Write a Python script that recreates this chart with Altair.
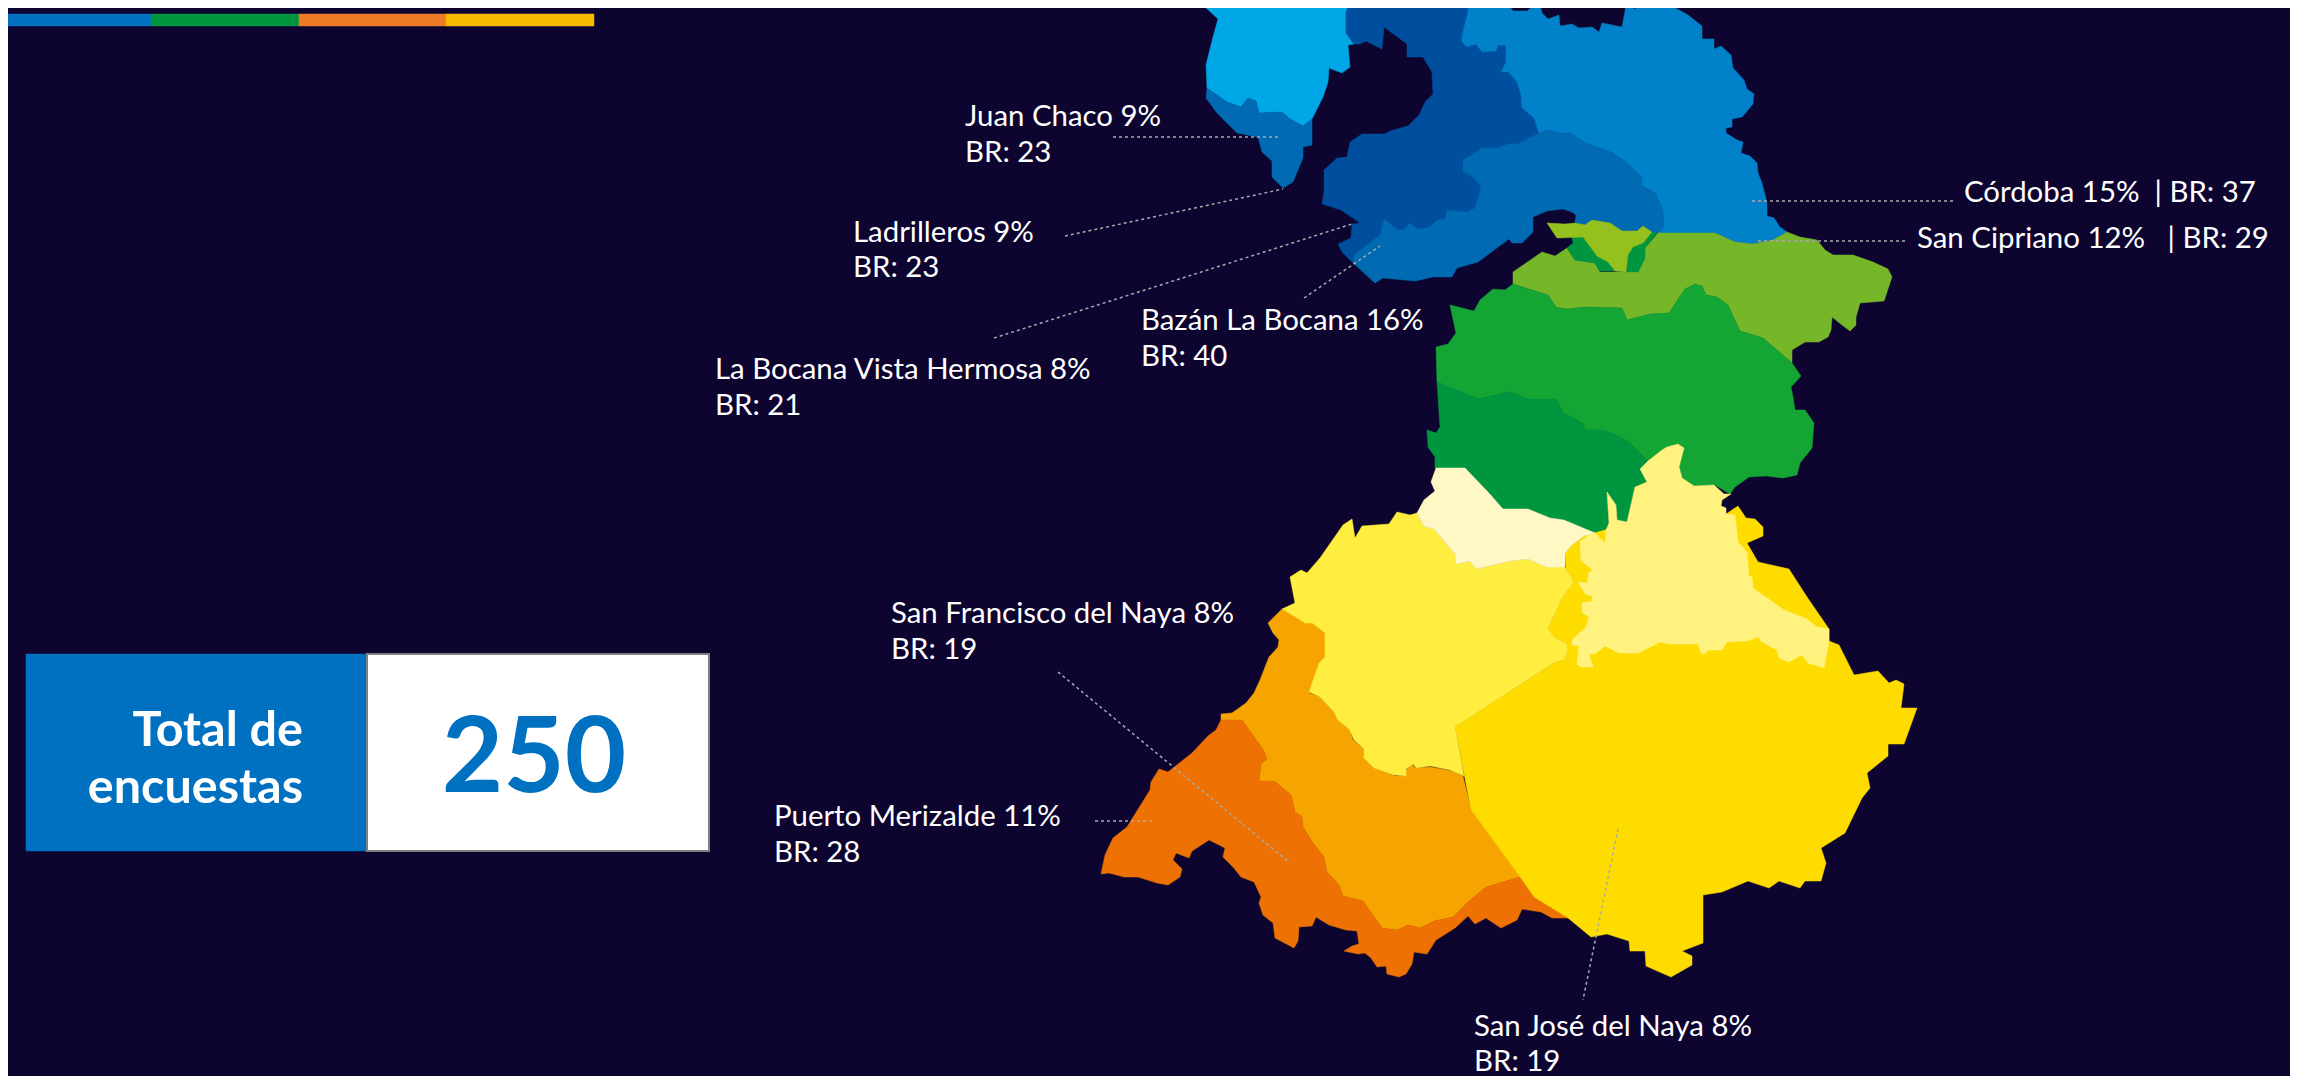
import altair as alt
import pandas as pd

BG = "#0d0530"

# ---- map regions, in the picture's own map units
light_blue = [(1202,0),(1203,5),(1218,19),(1213,37),(1206,65),(1207,88),(1227,102),(1241,107),(1248,98),(1256,101),(1259,113),(1282,112),(1290,119),(1303,126),(1312,119),(1323,97),(1328,82),(1329,68),(1342,73),(1350,67),(1348,45),(1354,44),(1346,33),(1346,13),(1350,0)]
ladrilleros = [(1207,88),(1206,98),(1217,113),(1237,133),(1258,137),(1262,152),(1272,161),(1272,177),(1283,188),(1293,182),(1303,158),(1303,147),(1312,145),(1312,119),(1303,126),(1290,119),(1282,112),(1259,113),(1256,101),(1248,98),(1241,107),(1227,102)]
navy = [(1350,0),(1346,13),(1346,33),(1354,44),(1360,44),(1366,41),(1382,49),(1384,27),(1407,44),(1407,57),(1423,57),(1432,72),(1433,94),(1425,102),(1419,115),(1408,126),(1390,131),(1385,134),(1362,134),(1350,142),(1347,157),(1337,158),(1324,170),(1324,192),(1322,204),(1341,210),(1360,223),(1352,224),(1351,238),(1338,244),(1342,252),(1353,263),(1354,255),(1380,235),(1384,219),(1398,230),(1403,230),(1410,223),(1418,229),(1430,227),(1437,220),(1445,219),(1447,210),(1467,212),(1475,208),(1481,187),(1472,176),(1463,172),(1463,160),(1482,148),(1497,148),(1508,144),(1517,144),(1539,133),(1534,118),(1522,108),(1521,95),(1517,82),(1508,72),(1501,72),(1506,62),(1506,45),(1498,45),(1496,51),(1482,52),(1476,44),(1467,47),(1462,42),(1462,35),(1468,12),(1468,0)]
bazan = [(1539,133),(1547,130),(1560,133),(1570,133),(1585,143),(1613,153),(1627,163),(1642,178),(1642,186),(1655,193),(1662,208),(1664,220),(1663,227),(1658,233),(1652,232),(1643,226),(1637,231),(1622,231),(1610,223),(1592,220),(1586,226),(1575,223),(1576,215),(1572,212),(1563,209),(1547,211),(1533,217),(1533,232),(1522,243),(1512,243),(1509,239),(1478,262),(1457,268),(1452,277),(1433,277),(1415,281),(1383,278),(1375,283),(1353,263),(1354,255),(1380,235),(1384,219),(1398,230),(1403,230),(1410,223),(1418,229),(1430,227),(1437,220),(1445,219),(1447,210),(1467,212),(1475,208),(1481,187),(1472,176),(1463,172),(1463,160),(1482,148),(1497,148),(1508,144),(1517,144)]
cordoba = [(1468,0),(1468,12),(1462,35),(1462,42),(1467,47),(1476,44),(1482,52),(1496,51),(1498,45),(1506,45),(1506,62),(1501,72),(1508,72),(1517,82),(1521,95),(1522,108),(1534,118),(1539,133),(1547,130),(1560,133),(1570,133),(1585,143),(1613,153),(1627,163),(1642,178),(1642,186),(1655,193),(1662,208),(1664,220),(1663,227),(1658,233),(1715,233),(1735,242),(1753,244),(1773,240),(1787,232),(1780,227),(1774,218),(1767,216),(1767,203),(1762,183),(1758,173),(1757,163),(1750,156),(1741,153),(1743,142),(1737,140),(1726,133),(1726,128),(1732,127),(1732,119),(1742,117),(1753,104),(1754,94),(1747,89),(1744,80),(1733,68),(1731,55),(1721,46),(1714,49),(1714,39),(1702,39),(1702,26),(1688,15),(1670,5),(1660,7),(1646,1),(1643,5),(1635,9),(1626,6),(1622,27),(1602,23),(1599,32),(1592,27),(1579,28),(1572,24),(1560,26),(1559,15),(1548,19),(1542,13),(1540,5),(1532,7),(1527,11),(1513,11),(1505,0)]
olive = [(1547,223),(1565,224),(1575,223),(1585,225),(1592,220),(1610,223),(1622,231),(1637,231),(1643,226),(1652,232),(1643,243),(1633,247),(1628,255),(1626,272),(1615,271),(1608,262),(1597,256),(1583,237),(1557,238)]
green_left = [(1572,237),(1583,237),(1597,256),(1607,260),(1615,271),(1600,271),(1595,263),(1575,260),(1567,248),(1573,243)]
green_right = [(1657,233),(1652,232),(1643,243),(1633,247),(1628,255),(1626,272),(1638,272),(1645,258),(1645,248)]
cipriano = [(1658,233),(1715,233),(1735,242),(1753,244),(1773,240),(1787,232),(1800,237),(1817,240),(1825,250),(1833,255),(1853,255),(1873,262),(1888,269),(1892,277),(1884,301),(1860,303),(1856,317),(1856,325),(1850,331),(1842,325),(1832,317),(1831,330),(1828,337),(1819,342),(1805,342),(1792,350),(1792,363),(1777,350),(1763,338),(1740,331),(1728,305),(1717,297),(1706,295),(1702,286),(1695,284),(1685,289),(1669,313),(1650,314),(1627,320),(1622,308),(1585,307),(1566,309),(1556,307),(1548,295),(1513,284),(1513,272),(1542,252),(1555,256),(1567,248),(1575,260),(1595,263),(1600,272),(1638,272),(1645,258),(1645,248)]
green = [(1513,284),(1548,295),(1556,307),(1566,309),(1585,307),(1622,308),(1627,320),(1650,314),(1669,313),(1685,289),(1695,284),(1702,286),(1706,295),(1717,297),(1728,305),(1740,331),(1763,338),(1777,350),(1792,363),(1801,376),(1791,387),(1793,397),(1795,410),(1805,410),(1814,423),(1812,448),(1800,463),(1797,475),(1783,478),(1767,476),(1749,477),(1735,487),(1730,494),(1715,485),(1693,486),(1680,477),(1678,465),(1684,448),(1678,444),(1667,447),(1648,462),(1640,453),(1630,443),(1620,437),(1603,430),(1585,430),(1582,423),(1563,413),(1556,399),(1528,399),(1510,392),(1478,399),(1437,382),(1436,347),(1448,344),(1456,333),(1450,305),(1474,311),(1480,300),(1493,289),(1505,290)]
dark_green = [(1437,382),(1478,399),(1510,392),(1528,399),(1556,399),(1563,413),(1582,423),(1585,430),(1603,430),(1620,437),(1630,443),(1640,453),(1648,462),(1641,468),(1647.5,482),(1635,487),(1633,495),(1627,522),(1617,520),(1616,505),(1607,492),(1609,523),(1606,530),(1605,543),(1595,533),(1564,520),(1550,518),(1528,509),(1503,509),(1488,492),(1465,468),(1435,468),(1435,457),(1428,447),(1427,430),(1436,433),(1440,427)]
cream = [(1436,468),(1465,468),(1488,492),(1503,509),(1528,509),(1550,518),(1564,520),(1595,533),(1584,536),(1572,545),(1565,553),(1565,567),(1546,567),(1528,559),(1510,561),(1476,569),(1470,561),(1456,564),(1456,555),(1439,535),(1434,529),(1424,526),(1417,513),(1424,500),(1435,491),(1431,482)]
yellow = [(1417,513),(1410,515),(1397,512),(1389,524),(1362,526),(1355,538),(1352,519),(1343,525),(1320,558),(1307,573),(1301,570),(1290,577),(1295,603),(1282,609),(1305,623),(1312,623),(1325,633),(1325,657),(1319,663),(1309,692),(1320,697),(1334,712),(1338,720),(1349,729),(1354,740),(1364,749),(1364,758),(1374,768),(1394,775),(1406,776),(1406,769),(1413,764),(1416,768),(1430,766),(1450,770),(1464,776),(1455,727),(1555,662),(1564,660),(1568,650),(1566,643),(1555,638),(1548,628),(1563,597),(1574,582),(1566,569),(1565,567),(1546,567),(1528,559),(1510,561),(1476,569),(1470,561),(1456,564),(1456,555),(1439,535),(1434,529),(1424,526)]
gold = [(1455,727),(1555,662),(1564,660),(1568,650),(1566,643),(1555,638),(1548,628),(1563,597),(1574,582),(1566,569),(1565,553),(1572,545),(1584,536),(1640,520),(1700,520),(1726,514),(1738,506),(1746,518),(1755,519),(1763,527),(1763,536),(1747,543),(1758,562),(1789,569),(1807,597),(1829,629),(1829,641),(1839,645),(1854,675),(1878,671),(1889,683),(1896,680),(1904,684),(1901,708),(1917,708),(1904,744),(1888,744),(1888,756),(1867,773),(1870,788),(1862,798),(1845,833),(1821,848),(1826,863),(1821,881),(1805,881),(1800,888),(1779,881),(1769,888),(1748,881),(1722,892),(1703,895),(1703,943),(1682,951),(1692,956),(1692,965),(1671,977),(1646,966),(1645,951),(1630,951),(1629,941),(1607,934),(1591,937),(1568,918),(1534,897),(1520,877),(1471,810)]
pale = [(1684,448),(1679,467),(1682,478),(1694,486),(1714,485),(1724,494),(1731,494),(1722,500),(1721,506),(1726,508),(1726,514),(1735,515),(1738,542),(1747,552),(1749,576),(1752,577),(1753,588),(1784,610),(1807,619),(1817,627),(1829,629),(1829,641),(1824,668),(1808,663),(1802,655),(1789,662),(1779,658),(1777,650),(1762,642),(1758,637),(1747,641),(1727,642),(1722,650),(1709,650),(1704,654),(1701,653),(1698,644),(1670,644),(1660,642),(1639,653),(1619,653),(1605,646),(1595,654),(1589,654),(1593,667),(1581,667),(1577,664),(1579,646),(1572,645),(1572,640),(1586,627),(1589,617),(1582,612),(1582,603),(1592,601),(1592,596),(1585,594),(1578,582),(1587,583),(1589,572),(1593,570),(1581,561),(1580,542),(1588,536),(1595,533),(1605,543),(1606,530),(1609,523),(1607,492),(1616,505),(1617,520),(1627,522),(1635,487),(1647,482),(1640,469),(1648,461),(1662,450),(1667,447),(1678,444)]
amber = [(1282,609),(1268,623),(1273,633),(1279,640),(1278,647),(1269,657),(1260,680),(1254,693),(1246,703),(1232,713),(1221,714),(1221,720),(1242,720),(1264,751),(1267,759),(1261,764),(1259,781),(1274,781),(1291,795),(1295,812),(1302,817),(1303,827),(1313,843),(1324,857),(1327,872),(1339,885),(1343,896),(1363,901),(1382,928),(1397,930),(1408,925),(1420,928),(1434,921),(1453,917),(1467,903),(1486,887),(1520,877),(1471,810),(1463,776),(1452,771),(1430,767),(1415,768),(1412,764),(1406,770),(1406,776),(1396,776),(1374,768),(1364,758),(1364,749),(1353,740),(1349,729),(1339,720),(1334,712),(1320,697),(1309,693),(1319,663),(1325,657),(1325,633),(1312,623),(1305,623)]
orange = [(1221,720),(1242,720),(1264,751),(1267,759),(1261,764),(1259,781),(1274,781),(1291,795),(1295,812),(1302,817),(1303,827),(1313,843),(1324,857),(1327,872),(1339,885),(1343,896),(1363,901),(1382,928),(1397,930),(1408,925),(1420,928),(1434,921),(1453,917),(1467,903),(1486,887),(1520,877),(1534,897),(1568,918),(1552,918),(1541,912),(1522,909),(1517,920),(1501,928),(1486,918),(1475,924),(1468,916),(1455,928),(1436,940),(1427,954),(1414,952),(1412,964),(1406,974),(1399,977),(1387,974),(1386,966),(1377,967),(1371,958),(1365,953),(1358,954),(1344,951),(1352,946),(1359,944),(1357,931),(1346,930),(1329,925),(1316,917),(1312,926),(1299,927),(1298,941),(1294,948),(1275,938),(1273,923),(1263,915),(1259,903),(1261,897),(1254,882),(1241,877),(1233,867),(1223,857),(1225,848),(1209,840),(1192,851),(1189,858),(1176,853),(1173,860),(1182,869),(1180,877),(1168,885),(1157,883),(1138,877),(1124,877),(1109,873),(1101,874),(1105,855),(1113,838),(1127,827),(1150,790),(1151,782),(1159,769),(1168,772),(1192,753),(1208,736),(1216,730)]

regions = [
    (light_blue, "#00a7e7"), (ladrilleros, "#006ab3"), (navy, "#004f9f"), (cordoba, "#0081c9"),
    (bazan, "#006ab3"), (cipriano, "#76b72a"), (green_left, "#009640"), (green_right, "#009640"),
    (olive, "#95c11f"), (green, "#14a535"), (dark_green, "#009640"), (amber, "#f6a500"),
    (orange, "#ee7203"), (gold, "#ffdc00"), (yellow, "#ffed3f"), (cream, "#fff8c5"), (pale, "#fff27f"),
]

# ---- top strip and total box
strip_edges = [4, 151, 299, 446, 594]
strip_span = [14, 26]
strip_colors = ["#0070c0", "#009640", "#ec7a26", "#f7bc00"]
box_edges = [26, 367, 709]
box_span = [654, 851]

# ---- labels
label_text = ["Juan Chaco 9%", "BR: 23", "Ladrilleros 9%", "BR: 23", "La Bocana Vista Hermosa 8%", "BR: 21",
              "Bazán La Bocana 16%", "BR: 40", "San Francisco del Naya 8%", "BR: 19", "Puerto Merizalde 11%", "BR: 28",
              "San José del Naya 8%", "BR: 19", "Córdoba 15%\u00a0\u00a0|\u00a0BR: 37", "San Cipriano 12%\u00a0\u00a0\u00a0|\u00a0BR: 29"]
label_x = [965, 965, 853, 853, 715, 715, 1141, 1141, 891, 891, 774, 774, 1474, 1474, 1964, 1917]
label_y = [126, 162, 242, 277, 379, 415, 330, 366, 623, 659, 826, 862, 1036, 1071, 202, 248]

# ---- leader lines
lead_x1 = [1113, 1065, 994, 1304, 1058, 1095, 1618, 1752, 1758]
lead_y1 = [137, 236, 338, 298, 672, 821, 829, 201, 241]
lead_x2 = [1279, 1283, 1352, 1380, 1290, 1153, 1583, 1956, 1906]
lead_y2 = [137, 189, 224, 246, 863, 821, 1000, 201, 241]


def ring(pts):
    r = [list(p) for p in pts]
    return r + [r[0]]


def feature(pts, color):
    return {"type": "Feature", "properties": {"color": color},
            "geometry": {"type": "Polygon", "coordinates": [ring(pts)]}}


def rect(x0, x1, y0, y1):
    return [(x0, y0), (x1, y0), (x1, y1), (x0, y1)]


def proj(c):
    return c.project(type="identity", scale=1, translate=[-8, -8])


features = [feature(p, c) for p, c in regions]
for i, c in enumerate(strip_colors):
    features.append(feature(rect(strip_edges[i], strip_edges[i + 1], strip_span[0], strip_span[1]), c))
features.append(feature(rect(box_edges[0], box_edges[1], box_span[0], box_span[1]), "#0071c1"))
features.append(feature(rect(box_edges[1], box_edges[2], box_span[0], box_span[1]), "#ffffff"))

shapes = proj(alt.Chart(alt.Data(values=features)).mark_geoshape(strokeWidth=0.5).encode(
    fill=alt.Fill("properties.color:N", scale=None),
    stroke=alt.Stroke("properties.color:N", scale=None),
))

outline = proj(alt.Chart(alt.Data(values=[feature(rect(box_edges[1], box_edges[2], box_span[0], box_span[1]), "#7f7f7f")]))
               .mark_geoshape(filled=False, stroke="#7f7f7f", strokeWidth=2))

leaders = proj(alt.Chart(pd.DataFrame({"x": lead_x1, "y": lead_y1, "x2": lead_x2, "y2": lead_y2}))
               .mark_rule(color="#a9a9a9", strokeWidth=1.5, strokeDash=[3, 3])
               .encode(longitude="x:Q", latitude="y:Q", longitude2="x2:Q", latitude2="y2:Q"))

labels = proj(alt.Chart(pd.DataFrame({"x": label_x, "y": label_y, "t": label_text}))
              .mark_text(align="left", baseline="alphabetic", font="Lato", fontSize=29.4, color="#ffffff")
              .encode(longitude="x:Q", latitude="y:Q", text="t:N"))

title_lines = proj(alt.Chart(pd.DataFrame({"x": [303, 303], "y": [746, 803], "t": ["Total de", "encuestas"]}))
                   .mark_text(align="right", baseline="alphabetic", font="Lato", fontSize=48.5, fontWeight="bold", color="#ffffff")
                   .encode(longitude="x:Q", latitude="y:Q", text="t:N"))

total = proj(alt.Chart(pd.DataFrame({"x": [534], "y": [792], "t": ["250"]}))
             .mark_text(align="center", baseline="alphabetic", font="Lato", fontSize=106, fontWeight="bold", color="#0071c1")
             .encode(longitude="x:Q", latitude="y:Q", text="t:N"))

chart = alt.layer(shapes, outline, leaders, labels, title_lines, total).properties(
    width=2282, height=1068, background=BG, padding=0,
).configure_view(stroke=None)

chart.save("out.html", embed_options={"renderer": "svg", "actions": False})
